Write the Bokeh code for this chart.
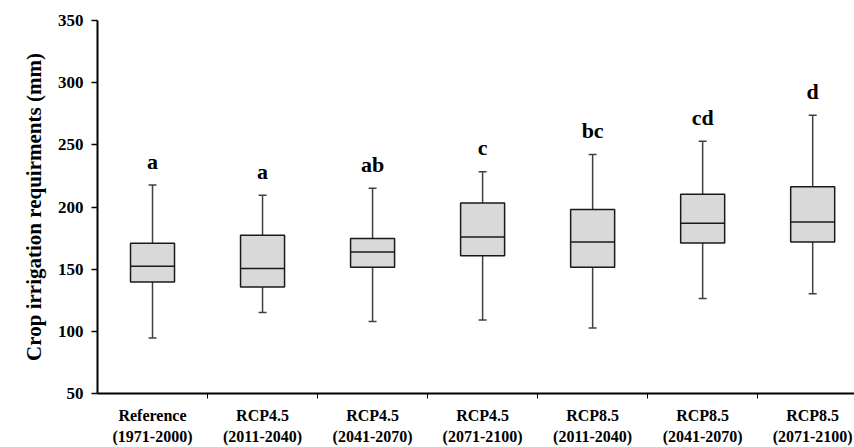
from bokeh.plotting import figure
from bokeh.models import Range1d, FixedTicker, ColumnDataSource, Whisker, TeeHead
from bokeh.transform import dodge
from bokeh.core.properties import value
from bokeh.embed import file_html
from bokeh.resources import INLINE

categories = ["Reference\n(1971-2000)", "RCP4.5\n(2011-2040)", "RCP4.5\n(2041-2070)",
              "RCP4.5\n(2071-2100)", "RCP8.5\n(2011-2040)", "RCP8.5\n(2041-2070)",
              "RCP8.5\n(2071-2100)"]
whisker_low = [94.7, 115.2, 108.0, 109.1, 102.7, 126.5, 130.2]
q1 = [139.6, 135.6, 151.6, 160.7, 151.6, 171.1, 171.9]
median = [152.4, 150.5, 163.9, 175.9, 171.9, 186.9, 188.0]
q3 = [170.9, 177.3, 174.6, 203.2, 197.9, 210.2, 216.3]
whisker_high = [217.6, 209.4, 215.0, 228.3, 242.3, 252.9, 273.8]
letters = ["a", "a", "ab", "c", "bc", "cd", "d"]
y_ticks = [50, 100, 150, 200, 250, 300, 350]

FONT = "Liberation Serif"
xs = [i + 0.5 for i in range(len(categories))]
src = ColumnDataSource(dict(x=xs, lo=whisker_low, q1=q1, med=median, q3=q3,
                            hi=whisker_high, lab=letters))

p = figure(width=854, height=447, output_backend="svg", toolbar_location=None,
           x_range=Range1d(0, 6.88), y_range=Range1d(50, 350))
p.min_border_left = 97
p.min_border_right = 0
p.min_border_top = 20
p.min_border_bottom = 53
p.outline_line_color = None
p.xgrid.visible = False
p.ygrid.visible = False
p.background_fill_color = "white"
p.border_fill_color = "white"

w = Whisker(source=src, base="x", lower="lo", upper="hi", level="underlay",
            line_color="#404040", line_width=1.5,
            lower_head=TeeHead(size=8, line_color="#404040", line_width=1.5),
            upper_head=TeeHead(size=8, line_color="#404040", line_width=1.5))
p.add_layout(w)

p.vbar(x="x", width=0.4, top="q3", bottom="q1", source=src,
       fill_color="#d9d9d9", line_color="#1a1a1a", line_width=1.5)
p.segment(x0=dodge("x", -0.2), x1=dodge("x", 0.2), y0="med", y1="med", source=src,
          line_color="#1a1a1a", line_width=1.5)

p.text(x="x", y="hi", text="lab", source=src, y_offset=-24,
       text_align="center", text_baseline="alphabetic",
       text_font=value(FONT), text_font_style="bold", text_font_size="22px",
       text_color="black")

# x axis
p.xaxis.ticker = FixedTicker(ticks=xs, minor_ticks=[1, 2, 3, 4, 5, 6])
p.xaxis.major_label_overrides = {x: c for x, c in zip(xs, categories)}
p.xaxis.major_tick_line_color = None
p.xaxis.minor_tick_line_color = "black"
p.xaxis.minor_tick_out = 5
p.xaxis.minor_tick_in = 0
p.xaxis.axis_line_width = 2
p.xaxis.axis_line_color = "black"
p.xaxis.major_label_text_font = FONT
p.xaxis.major_label_text_font_style = "bold"
p.xaxis.major_label_text_font_size = "16px"
p.xaxis.major_label_text_color = "black"
p.xaxis.major_label_standoff = 7
p.xaxis.major_label_text_line_height = 1.25

# y axis
p.yaxis.ticker = FixedTicker(ticks=y_ticks)
p.yaxis.minor_tick_line_color = None
p.yaxis.major_tick_out = 6
p.yaxis.major_tick_in = 0
p.yaxis.major_tick_line_width = 1.5
p.yaxis.axis_line_width = 2
p.yaxis.axis_line_color = "black"
p.yaxis.major_label_text_font = FONT
p.yaxis.major_label_text_font_style = "bold"
p.yaxis.major_label_text_font_size = "17px"
p.yaxis.major_label_text_color = "black"
p.yaxis.major_label_standoff = 8
p.yaxis.axis_label = "Crop irrigation requirments (mm)"
p.yaxis.axis_label_text_font = FONT
p.yaxis.axis_label_text_font_style = "bold"
p.yaxis.axis_label_text_font_size = "21px"
p.yaxis.axis_label_text_color = "black"
p.yaxis.axis_label_standoff = 9

open("out.html", "w").write(file_html(p, INLINE))
